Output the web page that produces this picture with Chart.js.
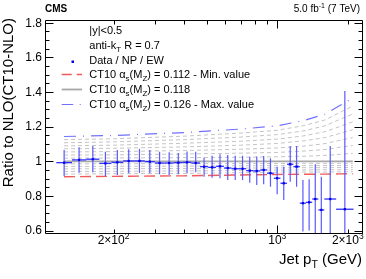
<!DOCTYPE html>
<html><head><meta charset="utf-8">
<script src="https://cdn.jsdelivr.net/npm/chart.js@4.4.0/dist/chart.umd.min.js"></script>
<style>html,body{margin:0;padding:0;background:#fff;}canvas{display:block;}</style>
</head><body>
<canvas id="c" width="366" height="279"></canvas>
<script>
// ---- data ----
const binLo = [114,133,153,174,196,220,245,272,300,330,362,395,430,468,507,548,592,638,686,737,790,846,905,967,1032,1101,1172,1248,1327,1410,1497,1588,1784];
const binHi = [133,153,174,196,220,245,272,300,330,362,395,430,468,507,548,592,638,686,737,790,846,905,967,1032,1101,1172,1248,1327,1410,1497,1588,1784,2116];
const binCenter = [123.1,142.6,163.2,184.7,207.7,232.2,258.1,285.7,314.6,345.6,378.1,412.1,448.6,487.1,527.1,569.6,614.6,661.6,711.0,763.0,817.5,875.0,935.5,999.0,1066,1136,1209,1287,1368,1453,1542,1683,1943];
const ratio = [0.992,1.008,1.012,0.988,0.994,1.002,1.002,0.998,0.990,0.990,0.992,0.994,0.990,0.969,0.965,0.971,0.961,0.957,0.957,0.946,0.944,0.950,0.931,0.902,0.873,0.983,0.969,0.758,0.763,0.782,0.719,0.782,0.723];
const errUp = [0.073,0.073,0.076,0.067,0.071,0.067,0.070,0.067,0.065,0.062,0.056,0.062,0.065,0.052,0.067,0.070,0.075,0.075,0.075,0.080,0.083,0.081,0.086,0.067,0.096,0.105,0.119,0.134,0.133,0.201,0.192,0.306,0.683];
const errDn = [0.077,0.074,0.075,0.073,0.073,0.071,0.070,0.067,0.065,0.069,0.067,0.063,0.053,0.058,0.060,0.069,0.069,0.065,0.065,0.070,0.081,0.083,0.078,0.092,0.096,0.101,0.116,0.164,0.163,0.250,0.250,0.300,0.300];

// theory curves (ratio to CT10 alpha_s = 0.118), sampled at these pT values
const thPt = [123,200,400,700,1000,1300,1600,1850,2100];
const as112 = [0.911,0.913,0.916,0.921,0.924,0.925,0.926,0.927,0.928];
const as113 = [0.926,0.928,0.930,0.934,0.937,0.938,0.938,0.939,0.940];
const as114 = [0.941,0.942,0.944,0.947,0.949,0.950,0.951,0.951,0.952];
const as115 = [0.956,0.957,0.958,0.961,0.962,0.963,0.963,0.964,0.964];
const as116 = [0.970,0.971,0.972,0.974,0.975,0.975,0.975,0.976,0.976];
const as117 = [0.985,0.986,0.986,0.987,0.987,0.988,0.988,0.988,0.988];
const as118 = [1.000,1.000,1.000,1.000,1.000,1.000,1.000,1.000,1.000];
const as119 = [1.018,1.019,1.021,1.023,1.026,1.029,1.034,1.040,1.046];
const as120 = [1.036,1.037,1.042,1.047,1.051,1.059,1.068,1.081,1.091];
const as121 = [1.054,1.056,1.062,1.070,1.077,1.088,1.102,1.121,1.137];
const as122 = [1.072,1.075,1.083,1.093,1.103,1.118,1.137,1.161,1.182];
const as123 = [1.089,1.093,1.104,1.116,1.128,1.147,1.171,1.201,1.228];
const as124 = [1.107,1.112,1.125,1.140,1.154,1.176,1.205,1.242,1.273];
const as125 = [1.125,1.130,1.145,1.163,1.179,1.206,1.239,1.282,1.319];
const as126 = [1.143,1.149,1.166,1.186,1.205,1.235,1.273,1.322,1.364];

// axis ticks
const yMajor = [0.6,0.8,1.0,1.2,1.4,1.6,1.8];
const yLabels = ['0.6','0.8','1','1.2','1.4','1.6','1.8'];
const yMinor = [0.6,0.65,0.7,0.75,0.8,0.85,0.9,0.95,1.0,1.05,1.1,1.15,1.2,1.25,1.3,1.35,1.4,1.45,1.5,1.55,1.6,1.65,1.7,1.75,1.8];
const xMajor = [1000];
const xMinor = [200,300,400,500,600,700,800,900,2000];
const xLabelVals = [200,1000,2000];
const xLabelMant = ['2\u00d710','10','2\u00d710'];
const xLabelExp = ['2','3','3'];

const FONT = '"Liberation Sans", Arial, Helvetica, sans-serif';

function pts(xs, ys){ return xs.map((x,i)=>({x:x, y:ys[i]})); }
function line(ys, color, width, dash){
  return {data: pts(thPt, ys), showLine:true, pointRadius:0, borderColor:color, borderWidth:width, borderDash:dash, tension:0, fill:false};
}
const grayDash = [4,3];
const grayC = '#c4c4c4';
const datasets = [
  {data: pts(binCenter, ratio), showLine:false, pointStyle:'rect', pointRadius:1.6, backgroundColor:'#0000ee', borderColor:'#0000ee', borderWidth:0},
  line(as126, '#7070ff', 1.2, [12,7,1,7]),
  line(as125, grayC, 1, grayDash),
  line(as124, grayC, 1, grayDash),
  line(as123, grayC, 1, grayDash),
  line(as122, grayC, 1, grayDash),
  line(as121, grayC, 1, grayDash),
  line(as120, grayC, 1, grayDash),
  line(as119, grayC, 1, grayDash),
  line(as117, grayC, 1, grayDash),
  line(as116, grayC, 1, grayDash),
  line(as115, grayC, 1, grayDash),
  line(as114, grayC, 1, grayDash),
  line(as113, grayC, 1, grayDash),
  line(as118, '#a8a8a8', 1.8, []),
  line(as112, '#f05a5a', 1.4, [11,5])
];

function drawParts(ctx, parts, x, y, align){
  let w = 0;
  parts.forEach(p=>{ ctx.font = (p.bold?'bold ':'') + p.size + 'px ' + FONT; p.w = ctx.measureText(p.t).width; w += p.w; });
  let cx = align==='right' ? x - w : (align==='center' ? x - w/2 : x);
  ctx.textAlign = 'left'; ctx.textBaseline = 'alphabetic';
  parts.forEach(p=>{ ctx.font = (p.bold?'bold ':'') + p.size + 'px ' + FONT; ctx.fillText(p.t, cx, y + (p.dy||0)); cx += p.w; });
}

const decor = {
  id:'decor',
  beforeDatasetDraw(chart, args){
    if (args.index !== 0) return;
    const ctx = chart.ctx, xs = chart.scales.x, ys = chart.scales.y, a = chart.chartArea;
    ctx.save();
    ctx.beginPath(); ctx.rect(a.left, a.top, a.right-a.left, a.bottom-a.top); ctx.clip();
    ctx.lineWidth = 1.2; ctx.strokeStyle = '#5a5aff';
    for (let i=0;i<ratio.length;i++){
      const px = xs.getPixelForValue(binCenter[i]);
      ctx.beginPath();
      ctx.moveTo(px, ys.getPixelForValue(ratio[i]+errUp[i]));
      ctx.lineTo(px, ys.getPixelForValue(ratio[i]-errDn[i]));
      ctx.stroke();
    }
    ctx.lineWidth = 1.3; ctx.strokeStyle = '#3030ff';
    for (let i=0;i<ratio.length;i++){
      const py = ys.getPixelForValue(ratio[i]);
      ctx.beginPath();
      ctx.moveTo(xs.getPixelForValue(binLo[i]), py);
      ctx.lineTo(xs.getPixelForValue(binHi[i]), py);
      ctx.stroke();
    }
    ctx.restore();
  },
  afterDraw(chart){
    const ctx = chart.ctx, xs = chart.scales.x, ys = chart.scales.y, a = chart.chartArea;
    const L = Math.round(a.left)+0.5, R = Math.round(a.right)+0.5, T = Math.round(a.top)+0.5, B = Math.round(a.bottom)-0.5;
    ctx.save();
    ctx.strokeStyle = '#000'; ctx.lineWidth = 1;
    ctx.beginPath(); ctx.moveTo(L,T); ctx.lineTo(R,T); ctx.lineTo(R,B); ctx.lineTo(L,B); ctx.closePath(); ctx.stroke();
    ctx.beginPath();
    yMinor.forEach(v=>{ const p = Math.round(ys.getPixelForValue(v))+0.5; ctx.moveTo(L,p); ctx.lineTo(L+4,p); ctx.moveTo(R,p); ctx.lineTo(R-4,p); });
    yMajor.forEach(v=>{ const p = Math.round(ys.getPixelForValue(v))+0.5; ctx.moveTo(L,p); ctx.lineTo(L+8,p); ctx.moveTo(R,p); ctx.lineTo(R-8,p); });
    xMinor.forEach(v=>{ const p = Math.round(xs.getPixelForValue(v))+0.5; ctx.moveTo(p,B); ctx.lineTo(p,B-4); ctx.moveTo(p,T); ctx.lineTo(p,T+4); });
    xMajor.forEach(v=>{ const p = Math.round(xs.getPixelForValue(v))+0.5; ctx.moveTo(p,B); ctx.lineTo(p,B-8); ctx.moveTo(p,T); ctx.lineTo(p,T+8); });
    ctx.stroke();

    ctx.fillStyle = '#000';
    // y tick labels
    ctx.font = '12px ' + FONT; ctx.textAlign = 'right'; ctx.textBaseline = 'middle';
    yMajor.forEach((v,i)=>{ ctx.fillText(yLabels[i], 42, ys.getPixelForValue(v)+0.5); });
    // x tick labels
    xLabelVals.forEach((v,i)=>{
      drawParts(ctx, [{t:xLabelMant[i], size:12},{t:xLabelExp[i], size:8.5, dy:-5}], xs.getPixelForValue(v), 244, 'center');
    });
    // axis titles
    drawParts(ctx, [{t:'Jet p', size:15},{t:'T', size:10.5, dy:4},{t:' (GeV)', size:15}], 362, 264, 'right');
    ctx.save(); ctx.translate(13, 18); ctx.rotate(-Math.PI/2);
    ctx.font = '15px ' + FONT; ctx.textAlign = 'right'; ctx.textBaseline = 'alphabetic';
    ctx.fillText('Ratio to NLO(CT10-NLO)', 0, 0);
    ctx.restore();
    // header
    drawParts(ctx, [{t:'CMS', size:10, bold:true}], 45, 12, 'left');
    drawParts(ctx, [{t:'5.0 fb', size:10},{t:'-1', size:7, dy:-4},{t:' (7 TeV)', size:10}], 360, 12, 'right');
    // legend
    const tx = 89.3;
    drawParts(ctx, [{t:'|y|<0.5', size:11}], tx, 34, 'left');
    drawParts(ctx, [{t:'anti-k', size:11},{t:'T', size:8, dy:3},{t:' R = 0.7', size:11}], tx, 49, 'left');
    drawParts(ctx, [{t:'Data / NP / EW', size:11}], tx, 64, 'left');
    const ct = (s)=>[{t:'CT10 \u03b1', size:11},{t:'s', size:8, dy:3},{t:'(M', size:11},{t:'Z', size:8, dy:3},{t:s, size:11}];
    drawParts(ctx, ct(') = 0.112 - Min. value'), tx, 78, 'left');
    drawParts(ctx, ct(') = 0.118'), tx, 93, 'left');
    drawParts(ctx, ct(') = 0.126 - Max. value'), tx, 108, 'left');
    ctx.fillStyle = '#0000ee'; ctx.fillRect(71.5, 60.5, 2.5, 2.5);
    const seg = (y, color, w, dash)=>{ ctx.beginPath(); ctx.setLineDash(dash); ctx.strokeStyle = color; ctx.lineWidth = w; ctx.moveTo(61.7,y); ctx.lineTo(82,y); ctx.stroke(); };
    seg(74.5, '#f05a5a', 1.4, [10,5]);
    seg(89.5, '#a8a8a8', 1.8, []);
    seg(104.5, '#7070ff', 1.2, [11.5,6.5,1,7]);
    ctx.setLineDash([]);
    ctx.restore();
  }
};

new Chart(document.getElementById('c'), {
  type:'scatter',
  data:{datasets},
  options:{
    responsive:false, animation:false, devicePixelRatio:1,
    layout:{padding:{left:45, right:4, top:20, bottom:45}},
    plugins:{legend:{display:false}, tooltip:{enabled:false}},
    scales:{
      x:{type:'logarithmic', min:102, max:2300, display:false},
      y:{type:'linear', min:0.58, max:1.816, display:false}
    }
  },
  plugins:[decor]
});
</script>
</body></html>
